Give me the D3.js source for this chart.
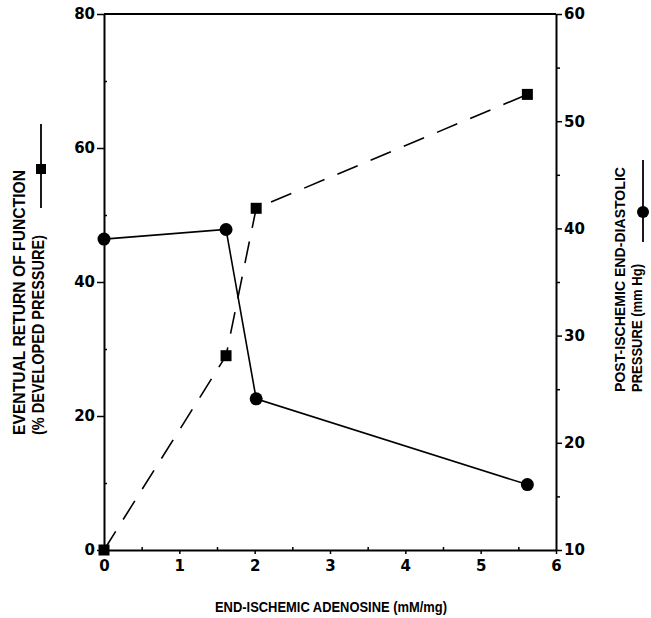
<!DOCTYPE html>
<html>
<head>
<meta charset="utf-8">
<script src="https://cdn.jsdelivr.net/npm/d3@7"></script>
<style>
body { margin: 0; background: #fff; }
text { font-family: "Liberation Sans", Arial, sans-serif; font-weight: bold; fill: #000; }
.domain { stroke: #000; stroke-width: 2; }
.tick line { stroke: #000; stroke-width: 1.5; }
</style>
</head>
<body>
<div id="chart"></div>
<script>
var w = 651, h = 618;
var padL = 104, padR = 556, padT = 14, padB = 550;

// data
var adenosine = [0, 1.62, 2.02, 5.62];
var returnFunction = [0, 29, 51, 68];        // left axis, squares, dashed
var diastolic = [39, 39.9, 24.1, 16.1];     // right axis, circles, solid

var xTicks = [0, 1, 2, 3, 4, 5, 6];
var leftTicks = [0, 20, 40, 60, 80];
var rightTicks = [10, 20, 30, 40, 50, 60];

var svg = d3.select("#chart").append("svg").attr("width", w).attr("height", h);

var x = d3.scaleLinear().domain([0, 6]).range([padL, padR]);
var yL = d3.scaleLinear().domain([0, 80]).range([padB, padT]);
var yR = d3.scaleLinear().domain([10, 60]).range([padB, padT]);

// minor ticks
svg.append("g").attr("transform", "translate(0," + padB + ")")
  .call(d3.axisBottom(x).tickValues(d3.range(0.5, 6, 1)).tickSize(-3).tickFormat(""))
  .call(function (g) { g.select(".domain").remove(); });
svg.append("g").attr("transform", "translate(" + padR + ",0)")
  .call(d3.axisRight(yR).tickValues(d3.range(15, 60, 10)).tickSize(4).tickFormat(""))
  .call(function (g) { g.select(".domain").remove(); });
svg.append("g").attr("transform", "translate(" + padL + ",0)")
  .call(d3.axisLeft(yL).tickValues(d3.range(10, 80, 20)).tickSize(-3).tickFormat(""))
  .call(function (g) { g.select(".domain").remove(); });

var fmt = d3.format("d");
var xAxis = svg.append("g").attr("transform", "translate(0," + padB + ")")
  .call(d3.axisBottom(x).tickValues(xTicks).tickFormat(fmt).tickSize(4).tickPadding(6).tickSizeOuter(0));
var lAxis = svg.append("g").attr("transform", "translate(" + padL + ",0)")
  .call(d3.axisLeft(yL).tickValues(leftTicks).tickFormat(fmt).tickSize(7).tickPadding(2).tickSizeOuter(0));
var rAxis = svg.append("g").attr("transform", "translate(" + padR + ",0)")
  .call(d3.axisRight(yR).tickValues(rightTicks).tickFormat(fmt).tickSize(6).tickPadding(2).tickSizeOuter(0));

[xAxis, lAxis, rAxis].forEach(function (a) {
  a.selectAll("text").style("font-size", "15px").style("font-family", "'DejaVu Sans', sans-serif").style("font-weight", "bold");
});

// top frame line
svg.append("line").attr("x1", padL).attr("x2", padR).attr("y1", padT).attr("y2", padT)
  .attr("stroke", "#000").attr("stroke-width", 2);

// dashed series (squares)
var lineL = d3.line().x(function (d, i) { return x(adenosine[i]); }).y(function (d) { return yL(d); });
svg.append("path").attr("d", lineL(returnFunction)).attr("fill", "none")
  .attr("stroke", "#000").attr("stroke-width", 1.6).attr("stroke-dasharray", "22,14");
svg.selectAll(".sq").data(returnFunction).enter().append("rect")
  .attr("x", function (d, i) { return x(adenosine[i]) - 5.5; })
  .attr("y", function (d) { return yL(d) - 5.5; })
  .attr("width", 11).attr("height", 11).attr("fill", "#000");

// solid series (circles)
var lineR = d3.line().x(function (d, i) { return x(adenosine[i]); }).y(function (d) { return yR(d); });
svg.append("path").attr("d", lineR(diastolic)).attr("fill", "none")
  .attr("stroke", "#000").attr("stroke-width", 1.6);
svg.selectAll(".ci").data(diastolic).enter().append("circle")
  .attr("cx", function (d, i) { return x(adenosine[i]); })
  .attr("cy", function (d) { return yR(d); })
  .attr("r", 6.5).attr("fill", "#000");

// axis titles
svg.append("text").attr("x", 215).attr("y", 612)
  .attr("textLength", 232).attr("lengthAdjust", "spacingAndGlyphs")
  .style("font-size", "15px").text("END-ISCHEMIC ADENOSINE (mM/mg)");

// left title, reads bottom to top, starts at y=435
var lt = svg.append("g").attr("transform", "translate(25,435) rotate(-90)");
lt.append("text").attr("x", 0).attr("y", 0)
  .attr("textLength", 265).attr("lengthAdjust", "spacingAndGlyphs")
  .style("font-size", "16px").text("EVENTUAL RETURN OF FUNCTION");
lt.append("text").attr("x", 0).attr("y", 19)
  .attr("textLength", 200).attr("lengthAdjust", "spacingAndGlyphs")
  .style("font-size", "16px").text("(% DEVELOPED PRESSURE)");
// legend square
lt.append("line").attr("x1", 227).attr("x2", 311).attr("y1", 16).attr("y2", 16).attr("stroke", "#000").attr("stroke-width", 1.8);
lt.append("rect").attr("x", 261).attr("y", 11).attr("width", 10).attr("height", 10).attr("fill", "#000");

// right title
var rt = svg.append("g").attr("transform", "translate(625,392) rotate(-90)");
rt.append("text").attr("x", 0).attr("y", 0)
  .attr("textLength", 225).attr("lengthAdjust", "spacingAndGlyphs")
  .style("font-size", "15px").text("POST-ISCHEMIC END-DIASTOLIC");
rt.append("text").attr("x", 0).attr("y", 17)
  .attr("textLength", 128).attr("lengthAdjust", "spacingAndGlyphs")
  .style("font-size", "15px").text("PRESSURE (mm Hg)");
// legend circle
rt.append("line").attr("x1", 150).attr("x2", 232).attr("y1", 18).attr("y2", 18).attr("stroke", "#000").attr("stroke-width", 1.8);
rt.append("circle").attr("cx", 180).attr("cy", 18).attr("r", 6).attr("fill", "#000");
</script>
</body>
</html>
